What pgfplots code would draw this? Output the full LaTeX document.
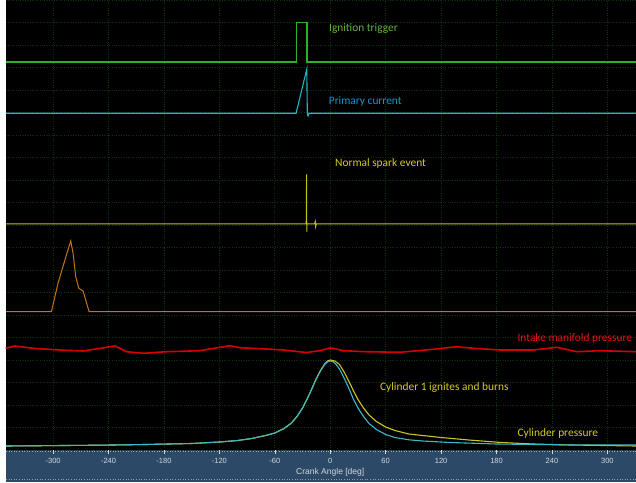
\documentclass[border=0pt]{standalone}
\usepackage{pgfplots}
\pgfplotsset{compat=1.18}
\usepackage{fontspec}
\setmainfont{Carlito}
\newfontfamily\arialf{Liberation Sans}
\definecolor{gridg}{RGB}{16,50,16}
\definecolor{trig}{RGB}{45,175,45}
\definecolor{trigtxt}{RGB}{100,180,60}
\definecolor{curr}{RGB}{30,185,200}
\definecolor{currtxt}{RGB}{25,150,205}
\definecolor{spark}{RGB}{200,190,25}
\definecolor{yeltxt}{RGB}{215,205,30}
\definecolor{orng}{RGB}{190,120,25}
\definecolor{redl}{RGB}{215,0,0}
\definecolor{redtxt}{RGB}{230,20,20}
\definecolor{cylc}{RGB}{60,185,200}
\definecolor{cyly}{RGB}{205,195,40}
\definecolor{band}{RGB}{44,74,103}
\definecolor{ticktxt}{RGB}{210,215,220}
\begin{document}
\begin{tikzpicture}
\useasboundingbox (-6pt,-32pt) rectangle (630pt,450pt);
\fill[white] (-6pt,-32pt) rectangle (0pt,450pt);
\fill[band] (0pt,-32pt) rectangle (630pt,0pt);
\draw[ticktxt!70!band, dotted, line width=0.6pt] (0pt,-0.8pt) -- (630pt,-0.8pt);
\draw[ticktxt!60!band, dotted, line width=0.6pt] (0pt,-29.5pt) -- (630pt,-29.5pt);
\begin{axis}[
  scale only axis, width=630pt, height=450pt,
  at={(0pt,0pt)}, anchor=south west,
  xmin=-351, xmax=331, ymin=0, ymax=450,
  axis background/.style={fill=black},
  axis line style={draw=none},
  clip=false,
  xtick={-300,-240,-180,-120,-60,0,60,120,180,240,300},
  xticklabels={-300,-240,-180,-120,-60,0,60,120,180,240,300},
  ytick={0,22.5,...,450},
  yticklabels={},
  ytick style={draw=none},
  xtick pos=bottom,
  tick align=outside,
  major tick length=4pt,
  xtick style={draw=ticktxt, line width=0.6pt},
  xmajorgrids, ymajorgrids,
  grid style={dotted, color=gridg, line width=0.7pt},
  xticklabel style={font=\arialf\fontsize{7.5}{9}\selectfont, text=ticktxt, yshift=-1pt},
]
% ignition trigger
\addplot[trig, line width=1.1pt] coordinates {(-351,388) (-36.8,388) (-36.8,427.7) (-25.2,427.7) (-25.2,388) (331,388)};
% primary current
\addplot[curr, line width=1.1pt] coordinates {(-351,336.7) (-37,336.7) (-25.4,380.7) (-24.8,336) (-24,334) (-23,336.7) (331,336.7)};
% spark
\addplot[spark, line width=1pt] coordinates {(-351,226) (-26,226) (-25.6,275.7) (-25.4,218.3) (-25.2,226) (-17,226) (-16.2,228.5) (-15.8,223.5) (-15.2,226) (331,226)};
% orange
\addplot[orng, line width=1pt] coordinates {(-351,138.5) (-301.8,138.5) (-294.7,166.7) (-285.6,195) (-280.9,209) (-278.4,196.7) (-275.5,173.3) (-272.2,161.7) (-267.6,159) (-264.7,150) (-261.1,138.5) (331,138.5)};
% intake manifold
\addplot[redl, line width=1.6pt] coordinates {(-351.4,101.7) (-341.6,104) (-321.8,101.7) (-292.8,100) (-267.6,99) (-249,101.7) (-233.3,104) (-227.8,101.7) (-220.6,98.3) (-202.6,96.7) (-177.2,98.3) (-141.2,99.3) (-108.7,104.3) (-97.8,102.3) (-68.9,101) (-50.9,100) (-25.6,97.5) (-11.2,99.3) (-0.3,102) (3.3,101.7) (14.1,99.3) (39.4,98.3) (75.5,97.7) (111.6,100.7) (136.9,103.3) (154.9,101.7) (183.9,100) (219.9,100) (245.3,102.7) (266.9,98.3) (292.2,99.3) (331,98.3)};
% cylinder yellow
\addplot[cyly, line width=1.1pt] coordinates {(-351,4) (-250,4.8) (-200,5.5) (-150,6.5) (-120,8) (-100,9.5) (-85,11.5) (-70,14.5) (-60,17) (-50,21.5) (-42,27) (-36,33.5) (-30,42) (-25,51) (-20,61) (-15,71.5) (-10,80.5) (-6,86) (-3,89) (0,90) (5,89) (10,85.5) (15,78) (20,69) (25,59.5) (30,50.5) (36,42) (42,35) (50,28.5) (60,23) (70,19.5) (85,16) (100,14.5) (120,12.5) (150,10) (185,7.5) (220,6) (260,5) (331,4)};
% cylinder cyan
\addplot[cylc, line width=1.1pt] coordinates {(-351,4) (-250,4.8) (-200,5.5) (-150,6.5) (-120,8) (-100,9.5) (-85,11.5) (-70,14.5) (-60,17) (-50,21.5) (-42,27) (-36,33.5) (-30,42) (-25,51) (-20,61) (-15,71.5) (-10,80) (-6,85.5) (-3,88.2) (0,89) (3,88.3) (6,86) (10,81) (15,72) (20,62) (25,51) (30,42) (36,33.5) (42,26.5) (50,20.5) (60,15.5) (70,12.5) (85,10.2) (100,9) (130,7.5) (180,6) (250,5.2) (331,5)};
% labels
\node[anchor=west, text=trigtxt, font=\fontsize{11.4}{13}\selectfont, inner sep=0pt] at (axis cs:-1.4,421.7) {Ignition trigger};
\node[anchor=west, text=currtxt, font=\fontsize{11.4}{13}\selectfont, inner sep=0pt] at (axis cs:-1.7,349) {Primary current};
\node[anchor=west, text=yeltxt, font=\fontsize{11.4}{13}\selectfont, inner sep=0pt] at (axis cs:5.1,286.7) {Normal spark event};
\node[anchor=west, text=redtxt, font=\fontsize{11.4}{13}\selectfont, inner sep=0pt] at (axis cs:202.6,111.7) {Intake manifold pressure};
\node[anchor=west, text=yeltxt, font=\fontsize{11.4}{13}\selectfont, inner sep=0pt] at (axis cs:53.8,62.3) {Cylinder 1 ignites and burns};
\node[anchor=west, text=yeltxt, font=\fontsize{11.4}{13}\selectfont, inner sep=0pt] at (axis cs:202.6,16.7) {Cylinder pressure};
\node[text=ticktxt, font=\arialf\fontsize{8.5}{10}\selectfont] at (axis cs:0,0) [yshift=-22pt] {Crank Angle [deg]};
\end{axis}
\end{tikzpicture}
\end{document}
